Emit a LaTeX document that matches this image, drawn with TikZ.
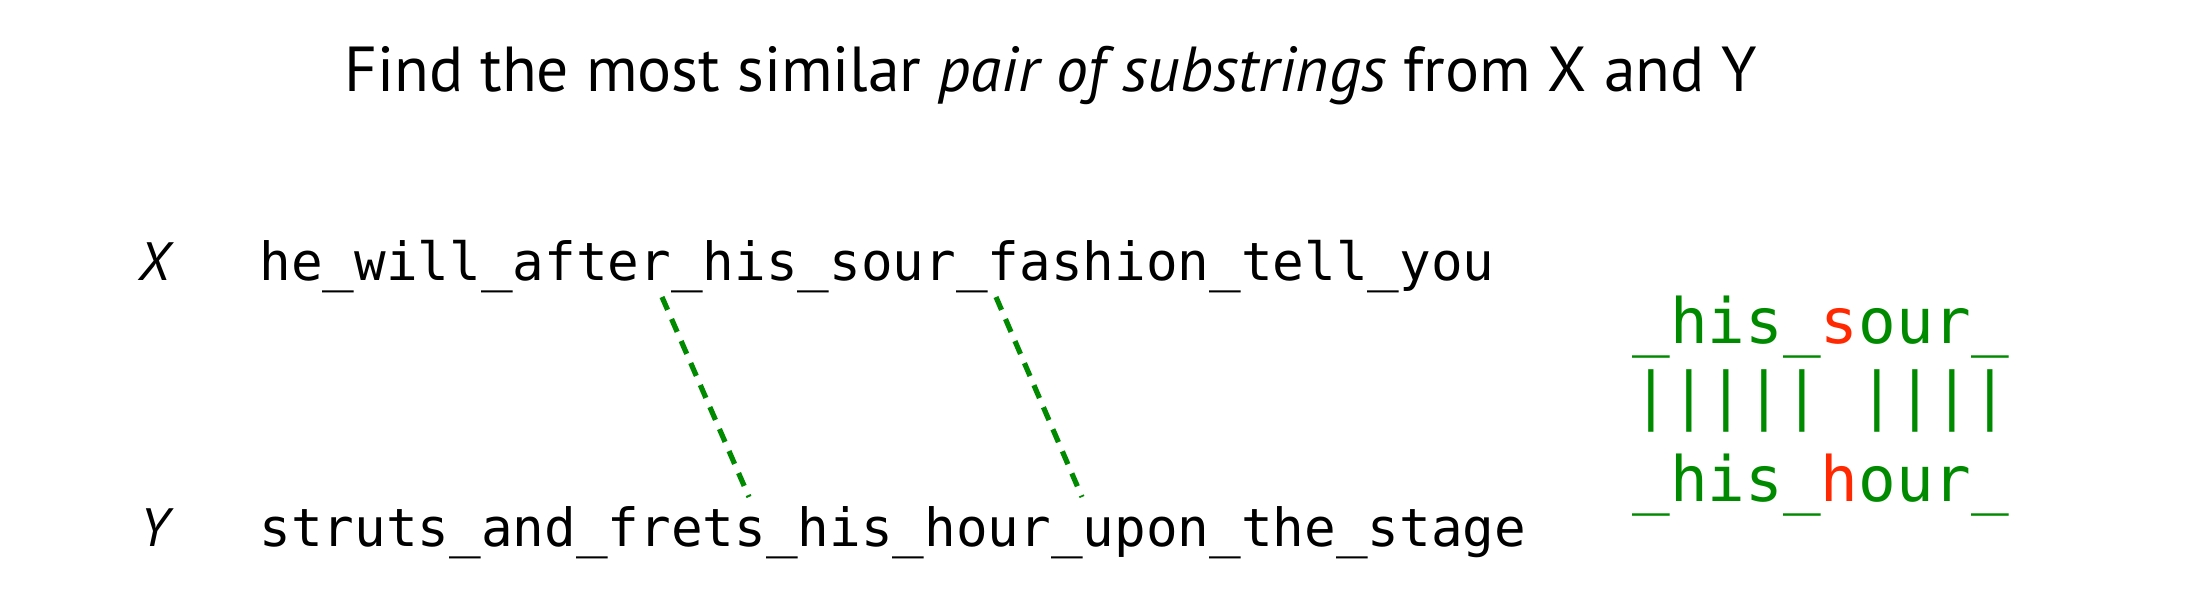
\documentclass[tikz,border=0pt]{standalone}
\usepackage{fontspec}
\setmainfont{PT Sans}
\newfontfamily\codefont{DejaVu Sans Mono}
\usetikzlibrary{positioning,calc}
\definecolor{match}{RGB}{0,138,0}
\definecolor{diff}{RGB}{255,40,0}

\tikzset{
  seqlabel/.style={anchor=base west,inner sep=0,font=\fontsize{27}{32}\selectfont\itshape},
  seqtext/.style={anchor=base west,inner sep=0,font=\fontsize{26.3}{32}\selectfont\codefont},
  aligntext/.style={anchor=base west,inner sep=0,text=match,font=\fontsize{31.3}{38}\selectfont\codefont},
  matchline/.style={match,line width=2.6pt,dash pattern=on 7pt off 5pt}
}

\begin{document}
\begin{tikzpicture}[x=0.5pt,y=-0.5pt]
    \useasboundingbox (0,0) rectangle (2194,610);
    % title
    \node[anchor=base,inner sep=0,font=\fontsize{31.8}{38}\selectfont] (title) at (1051,91)
        {Find the most similar \textit{pair of substrings} from X and Y};

    % the two strings
    \node[seqlabel] (xlab) at (138,280) {X};
    \node[seqlabel] (ylab) at (140,546) {Y};
    \node[seqtext] (xstr) at (259,280) {he\_will\_after\_his\_sour\_fashion\_tell\_you};
    \node[seqtext] (ystr) at (259,546) {struts\_and\_frets\_his\_hour\_upon\_the\_stage};

    % where the substrings start and end
    \coordinate (xa) at (662,297);
    \coordinate (xb) at (996,297);
    \coordinate (ya) at (749,497);
    \coordinate (yb) at (1082,497);
    \draw[matchline] (xa) -- (ya);
    \draw[matchline] (xb) -- (yb);

    % alignment of the pair
    \node[aligntext] (top) at (1632,343) {\_his\_\textcolor{diff}{s}our\_};
    \node[aligntext] (bars) at (1632,417) {||||| ||||};
    \node[aligntext] (bot) at (1632,501) {\_his\_\textcolor{diff}{h}our\_};
\end{tikzpicture}
\end{document}
